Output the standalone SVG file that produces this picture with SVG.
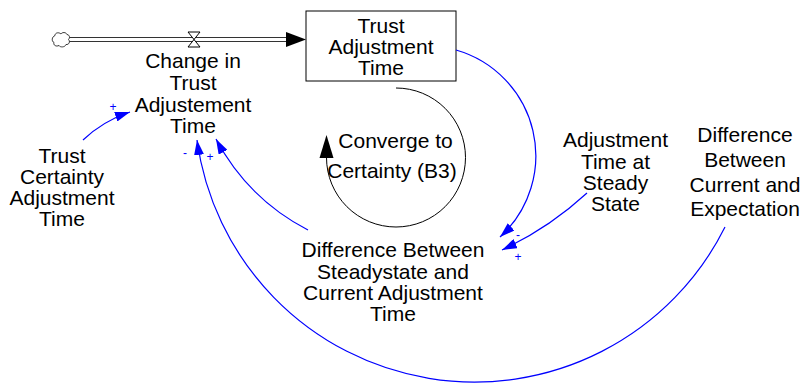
<svg xmlns="http://www.w3.org/2000/svg" width="802" height="383" viewBox="0 0 802 383">
  <style>
    .lbl { font-family: "Liberation Sans", Arial, sans-serif; font-size: 21px; fill: #000; text-anchor: middle; }
    .pol { font-family: "Liberation Sans", Arial, sans-serif; font-size: 12px; fill: #0000ff; text-anchor: middle; }
    .link { fill: none; stroke: #0000ff; stroke-width: 1.2; marker-end: url(#blueHead); }
  </style>
  <defs>
    <marker id="blueHead" markerUnits="userSpaceOnUse" markerWidth="16" markerHeight="10" refX="15" refY="5" orient="auto">
      <path d="M0,0 L15,5 L0,10 Z" fill="#0000ff"/>
    </marker>
  </defs>

  <rect width="802" height="383" fill="#fff"/>

  <!-- flow into the stock -->
  <g id="flow">
    <path d="M68,39.5 H288" stroke="#333" stroke-width="5" fill="none"/>
    <path d="M68,39.5 H288" stroke="#fff" stroke-width="3" fill="none"/>
    <path d="M55,35.5 C55,32.5 59,32 61,34 C62,32 66,32 67,34.5 C70,35 70,38 68.5,39.5 C70.5,41.5 69,45 66,44.5 C65,47.5 60,47.5 59,45.5 C56,47 53,45 54,42.5 C51.5,41.5 51.5,37 55,35.5 Z" fill="#fff" stroke="#333" stroke-width="1"/>
    <polygon points="286,32 306,39.5 286,47" fill="#000"/>
    <path d="M188,32 H200 L188,47 H200 Z" fill="#fff" stroke="#000" stroke-width="1"/>
  </g>

  <g id="change-in-trust-adjustment-time">
    <text class="lbl" x="193" y="68">Change in</text>
    <text class="lbl" x="193" y="90">Trust</text>
    <text class="lbl" x="193" y="112">Adjustement</text>
    <text class="lbl" x="193" y="133">Time</text>
  </g>

  <g id="trust-adjustment-time">
    <rect x="306" y="11" width="150" height="70" fill="#fff" stroke="#000" stroke-width="1"/>
    <text class="lbl" x="381" y="33">Trust</text>
    <text class="lbl" x="381" y="54">Adjustment</text>
    <text class="lbl" x="381" y="75">Time</text>
  </g>

  <g id="trust-certainty-adjustment-time">
    <text class="lbl" x="62" y="163">Trust</text>
    <text class="lbl" x="62" y="184">Certainty</text>
    <text class="lbl" x="62" y="205">Adjustment</text>
    <text class="lbl" x="62" y="226">Time</text>
  </g>

  <g id="adjustment-time-at-steady-state">
    <text class="lbl" x="615.5" y="147">Adjustment</text>
    <text class="lbl" x="615.5" y="168.5">Time at</text>
    <text class="lbl" x="615.5" y="190">Steady</text>
    <text class="lbl" x="615.5" y="211">State</text>
  </g>

  <g id="difference-between-current-and-expectation">
    <text class="lbl" x="745" y="141.5">Difference</text>
    <text class="lbl" x="745" y="166.5">Between</text>
    <text class="lbl" x="745" y="191.5">Current and</text>
    <text class="lbl" x="745" y="216">Expectation</text>
  </g>

  <g id="difference-between-steadystate-and-current">
    <text class="lbl" x="393" y="257">Difference Between</text>
    <text class="lbl" x="393" y="278.5">Steadystate and</text>
    <text class="lbl" x="393" y="299.5">Current Adjustment</text>
    <text class="lbl" x="393" y="320.5">Time</text>
  </g>

  <!-- balancing loop marker -->
  <g id="loop-b3">
    <path d="M396,88 A69.5,69.5 0 1 1 326.5,157.5" fill="none" stroke="#000" stroke-width="1"/>
    <polygon points="326.5,135 319.5,158 333.5,158" fill="#000"/>
    <text class="lbl" x="395.5" y="148">Converge to</text>
    <text class="lbl" x="392" y="178">Certainty (B3)</text>
  </g>

  <g id="connectors">
    <path class="link" d="M83,140 Q103,121 130,112"/>
    <path class="link" d="M308,230 Q248,199 216,139"/>
    <path class="link" d="M725,227 A280,280 0 0 1 197,140"/>
    <path class="link" d="M456,50 A110,110 0 0 1 500,237"/>
    <path class="link" d="M587,193 Q549,228 502,250"/>
    <text class="pol" x="113" y="111">+</text>
    <text class="pol" x="185" y="157">-</text>
    <text class="pol" x="210" y="161">+</text>
    <text class="pol" x="518" y="239">-</text>
    <text class="pol" x="518" y="261">+</text>
  </g>
</svg>
